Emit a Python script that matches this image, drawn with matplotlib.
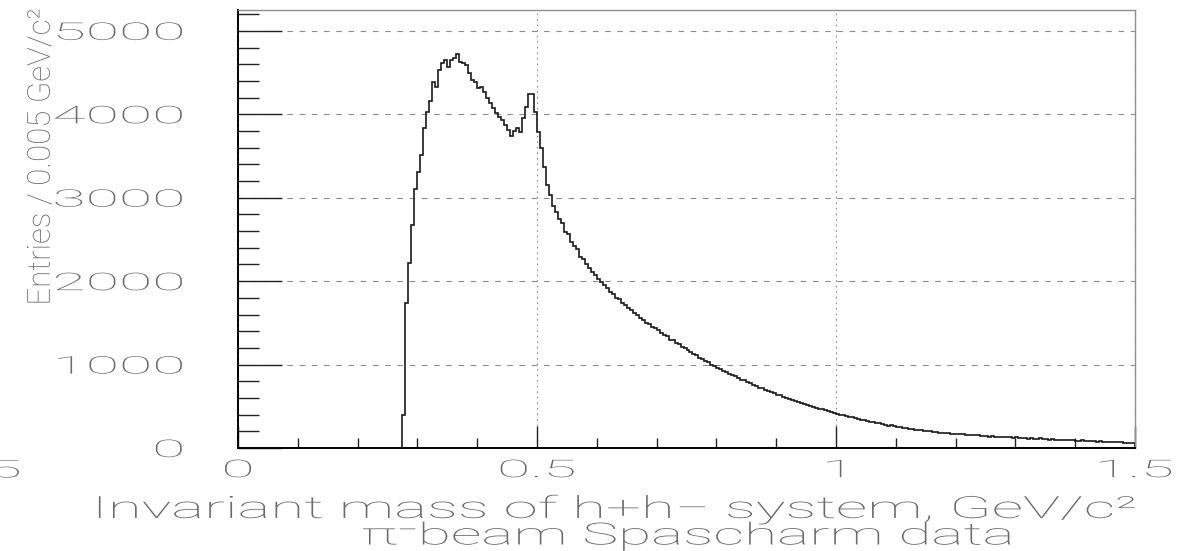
import matplotlib
matplotlib.use("Agg")
import numpy as np
import matplotlib.pyplot as plt
from matplotlib import patheffects
from matplotlib.ticker import MultipleLocator
from matplotlib.transforms import Affine2D

# Histogram: 0.005 GeV/c^2 bins, first filled bin starts at 0.275
BIN_WIDTH = 0.005
FIRST_EDGE = 0.275

peak_counts = [
    400, 1740, 2220, 2670, 3100,
    3310, 3510, 3840, 4030, 4160, 4390, 4330, 4530, 4610, 4650,
    4570, 4650, 4670, 4720, 4630, 4610, 4590, 4500, 4410, 4390,
    4320, 4330, 4270, 4200, 4140, 4080, 4020, 3970, 3930, 3870,
    3810, 3740, 3800, 3840, 3790, 3960, 4090, 4240, 4240, 4030,
    3790, 3600, 3370, 3150, 3030,
]
tail_counts = [
    2900, 2830, 2740, 2700, 2590, 2570, 2470, 2420, 2380, 2290,
    2260, 2200, 2160, 2110, 2070, 2030, 1990, 1950, 1920, 1870,
    1850, 1800, 1780, 1740, 1710, 1680, 1650, 1620, 1590, 1560,
    1540, 1500, 1490, 1450, 1440, 1410, 1380, 1360, 1340, 1300,
    1290, 1260, 1250, 1210, 1200, 1170, 1150, 1130, 1110, 1080,
    1070, 1040, 1030, 1000, 985, 960, 950, 925, 915, 890,
    875, 860, 840, 820, 810, 790, 775, 760, 745, 725,
    715, 700, 685, 670, 655, 640, 630, 615, 600, 590,
    575, 565, 550, 540, 530, 515, 505, 495, 485, 470,
    462, 450, 440, 430, 420, 410, 400, 390, 386, 374,
    366, 356, 350, 340, 332, 324, 316, 309, 300, 296,
    288, 280, 268, 270, 258, 252, 246, 238, 241, 227,
    224, 221, 210, 214, 203, 199, 202, 188, 191, 183,
    184, 176, 178, 168, 172, 166, 163, 166, 155, 158,
    152, 150, 153, 142, 146, 140, 137, 144, 133, 135,
    134, 127, 131, 126, 120, 128, 119, 117, 122, 113,
    116, 111, 108, 114, 104, 106, 101, 105, 98, 99,
    97, 94, 99, 90, 93, 88, 86, 91, 83, 85,
    80, 82, 77, 79, 74, 76, 71, 73, 70, 67,
    68, 63, 65, 61, 59,
]
counts = peak_counts + tail_counts

x_ticks = [0, 0.5, 1, 1.5]
x_tick_labels = ["0", "0.5", "1", "1.5"]
y_ticks = [0, 1000, 2000, 3000, 4000, 5000]
y_tick_labels = ["0", "1000", "2000", "3000", "4000", "5000"]

X_TITLE = "Invariant mass of h+h\u2212 system, GeV/c\u00b2"
SUB_TITLE = "\u03c0\u207bbeam Spascharm data"
Y_TITLE = "Entries / 0.005 GeV/c\u00b2"

TEXT_GRAY = "#6a6a6a"
GRID_GRAY = "#8c8c8c"
LABEL_STRETCH = 2.5


class Stretch(patheffects.AbstractPathEffect):
    """Scale the glyph outline about an anchor (ROOT's wide lettering)."""

    def __init__(self, sx=1.0, sy=1.0, fx=0.5, fy=0.5, width=None, height=None):
        super().__init__()
        self.sx, self.sy = sx, sy
        self.fx, self.fy = fx, fy
        self.width, self.height = width, height

    def draw_path(self, renderer, gc, tpath, affine, rgbFace=None):
        bb = tpath.get_extents(affine)
        sx = self.width / bb.width if self.width else self.sx
        sy = self.height / bb.height if self.height else self.sy
        cx = bb.x0 + self.fx * bb.width
        cy = bb.y0 + self.fy * bb.height
        st = Affine2D().translate(-cx, -cy).scale(sx, sy).translate(cx, cy)
        renderer.draw_path(gc, tpath, affine + st, rgbFace)


plt.rcParams["font.family"] = ["Roboto", "DejaVu Sans"]
plt.rcParams["font.weight"] = "light"
plt.rcParams["axes.labelweight"] = "light"

W, H = 1194, 551
fig = plt.figure(figsize=(W / 100, H / 100), dpi=100)
ax = fig.add_axes([238 / W, 1 - 448 / H, 897 / W, 438 / H])

edges = FIRST_EDGE + BIN_WIDTH * np.arange(len(counts) + 1)
ax.stairs(counts, edges, baseline=0, color="#1a1a1a", lw=1.2, zorder=3)

ax.set_xlim(0, 1.5)
ax.set_ylim(0, 5250)
ax.set_xticks(x_ticks, x_tick_labels)
ax.set_yticks(y_ticks, y_tick_labels)
ax.xaxis.set_minor_locator(MultipleLocator(0.1))
ax.yaxis.set_minor_locator(MultipleLocator(200))

ax.tick_params(which="both", direction="in", color="#222222", width=1.0,
               labelcolor=TEXT_GRAY, labelsize=17.5)
ax.tick_params(axis="y", which="major", length=31.5, pad=39.5)
ax.tick_params(axis="y", which="minor", length=15)
ax.tick_params(axis="x", which="major", length=16, pad=8)
ax.tick_params(axis="x", which="minor", length=7)

ax.set_axisbelow(True)
ax.grid(axis="y", which="major", color=GRID_GRAY, lw=0.8, linestyle=(0, (5, 6)))
ax.grid(axis="x", which="major", color=GRID_GRAY, lw=0.8, linestyle=(0, (1.5, 3.5)))

for side in ["left", "bottom"]:
    ax.spines[side].set_color("black")
    ax.spines[side].set_linewidth(1.4)
for side in ["top", "right"]:
    ax.spines[side].set_color("#909090")
    ax.spines[side].set_linewidth(1.0)

# axis titles
ax.set_xlabel(X_TITLE, fontsize=22, color=TEXT_GRAY, fontweight="light")
ax.xaxis.set_label_coords((615 - 238) / 897, (448 - 509) / 438)
ax.xaxis.label.set_va("center")
ax.xaxis.label.set_path_effects([Stretch(width=1036, fx=0.5)])

ax.set_ylabel(Y_TITLE, fontsize=19, color=TEXT_GRAY, fontweight="light")
ax.yaxis.set_label_coords((41 - 238) / 897, (448 - 157) / 438)
ax.yaxis.label.set_va("center")
ax.yaxis.label.set_path_effects([Stretch(sx=1.2, height=293, fx=0.5, fy=0.5)])

sub = ax.text((687 - 238) / 897, (448 - 536) / 438, SUB_TITLE, transform=ax.transAxes,
              ha="center", va="center", fontsize=22, color=TEXT_GRAY, fontweight="light")
sub.set_path_effects([Stretch(width=647, fx=0.5)])

stray = fig.text(6 / W, 1 - 471 / H, "5", ha="center", va="center",
                 fontsize=17.5, color=TEXT_GRAY, fontweight="light")
stray.set_path_effects([Stretch(sx=LABEL_STRETCH, fx=0.5)])

# tick labels exist for sure only after a first draw
fig.canvas.draw()
for tick in ax.yaxis.get_major_ticks():
    tick.label1.set_path_effects([Stretch(sx=LABEL_STRETCH, fx=1.0)])
for tick in ax.xaxis.get_major_ticks():
    tick.label1.set_path_effects([Stretch(sx=LABEL_STRETCH, fx=0.5)])

fig.savefig("out.png", dpi=100)
